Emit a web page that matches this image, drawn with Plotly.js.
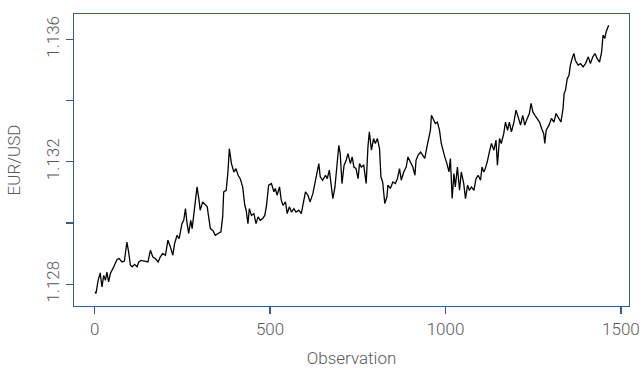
<!DOCTYPE html>
<html>
<head>
<meta charset="utf-8">
<script src="https://cdn.plot.ly/plotly-3.0.1.min.js"></script>
<style>html,body{margin:0;padding:0;background:#fff;}#chart{width:644px;height:368px;}</style>
</head>
<body>
<div id="chart"></div>
<script>
// Observation index
const obs = [1,4,10,16,21,26,31,35,40,45,52,57,64,70,78,85,92,97,102,107,114,121,126,133,143,152,159,166,173,181,187,194,202,209,216,223,228,235,241,249,254,259,263,268,274,278,283,287,292,297,301,308,316,321,325,330,337,344,352,360,365,368,
375,380,384,390,397,403,409,415,422,428,432,437,441,447,454,460,466,472,479,485,490,496,504,511,515,520,527,532,537,544,549,555,561,568,574,582,589,595,601,608,614,622,628,634,639,643,650,658,663,669,675,679,685,691,696,700,705,711,717,722,729,734,739,
745,751,755,760,767,774,779,783,789,795,800,806,812,816,821,827,833,836,843,850,857,863,869,874,881,888,893,900,907,913,916,922,929,935,941,948,953,957,960,966,971,977,983,988,992,998,1004,1010,1014,1019,1024,1028,1034,1040,1045,1052,1057,1063,1068,1074,1081,1087,1093,1100,1104,1109,
1112,1119,1125,1131,1138,1144,1148,1154,1159,1166,1171,1177,1182,1188,1195,1201,1207,1214,1220,1226,1233,1239,1244,1249,1255,1261,1268,1274,1280,1283,1287,1295,1302,1309,1315,1323,1329,1335,1338,1342,1347,1352,1356,1361,1366,1370,1378,1385,1392,1399,1407,1413,1420,1426,1432,1439,1445,1449,1454,1458,1462,1465];
// EUR/USD rate
const eurusd = [1.12775,1.12770,1.12813,1.12837,1.12791,1.12829,1.12813,1.12840,1.12808,1.12835,1.12851,1.12862,1.12881,1.12884,1.12873,1.12876,1.12938,1.12906,1.12862,1.12857,1.12865,1.12857,1.12873,1.12878,1.12876,1.12873,1.12911,1.12889,1.12884,1.12873,1.12889,1.12900,1.12895,1.12944,1.12922,1.12895,1.12933,1.12960,1.12949,1.12998,1.13009,1.13047,1.13004,1.12966,1.13009,1.12982,1.13031,1.13075,1.13118,1.13080,1.13042,1.13069,1.13058,1.13053,1.13020,1.12982,1.12976,1.12960,1.12966,1.12971,1.13020,1.13102,
1.13107,1.13167,1.13243,1.13194,1.13167,1.13178,1.13156,1.13145,1.13118,1.13058,1.13042,1.12998,1.13047,1.13025,1.13031,1.12998,1.13020,1.13009,1.13015,1.13025,1.13058,1.13124,1.13129,1.13102,1.13113,1.13091,1.13118,1.13075,1.13058,1.13069,1.13031,1.13053,1.13036,1.13047,1.13036,1.13042,1.13031,1.13069,1.13102,1.13091,1.13069,1.13096,1.13134,1.13162,1.13194,1.13151,1.13140,1.13156,1.13145,1.13173,1.13124,1.13080,1.13118,1.13194,1.13254,1.13227,1.13129,1.13189,1.13205,1.13227,1.13194,1.13216,1.13183,
1.13178,1.13145,1.13194,1.13183,1.13189,1.13129,1.13249,1.13298,1.13238,1.13276,1.13260,1.13276,1.13243,1.13151,1.13134,1.13064,1.13085,1.13124,1.13113,1.13134,1.13129,1.13145,1.13178,1.13140,1.13167,1.13183,1.13216,1.13200,1.13183,1.13156,1.13205,1.13222,1.13232,1.13222,1.13211,1.13254,1.13281,1.13303,1.13352,1.13336,1.13325,1.13330,1.13303,1.13260,1.13238,1.13216,1.13194,1.13167,1.13211,1.13080,1.13162,1.13118,1.13183,1.13107,1.13167,1.13129,1.13080,1.13124,1.13107,1.13118,1.13107,1.13145,1.13156,1.13140,1.13183,1.13167,
1.13173,1.13200,1.13232,1.13260,1.13238,1.13271,1.13189,1.13276,1.13260,1.13292,1.13330,1.13303,1.13330,1.13298,1.13330,1.13369,1.13347,1.13320,1.13352,1.13320,1.13342,1.13358,1.13391,1.13363,1.13352,1.13342,1.13330,1.13309,1.13292,1.13260,1.13303,1.13320,1.13342,1.13330,1.13358,1.13342,1.13330,1.13374,1.13423,1.13434,1.13472,1.13483,1.13516,1.13538,1.13554,1.13532,1.13516,1.13521,1.13510,1.13521,1.13543,1.13521,1.13543,1.13554,1.13538,1.13526,1.13559,1.13614,1.13603,1.13625,1.13641,1.13646];

const yTickVals = [1.128, 1.130, 1.132, 1.134, 1.136];
const yTickText = ['1.128', '', '1.132', '', '1.136'];
const xTickVals = [0, 500, 1000, 1500];

const axisBlue = '#2f5f8f';
const textGray = '#5a5a5a';
const font = {family: 'Roboto, "Open Sans", sans-serif', size: 17, color: textGray, weight: 300};

const trace = {
  x: obs, y: eurusd, type: 'scatter', mode: 'lines',
  line: {color: '#000000', width: 1.3}, hoverinfo: 'skip'
};

const layout = {
  width: 644, height: 368,
  margin: {l: 74, r: 15, t: 14, b: 62},
  paper_bgcolor: '#ffffff', plot_bgcolor: '#ffffff',
  showlegend: false,
  font: font,
  xaxis: {
    range: [-58.7, 1523], tickvals: xTickVals, ticktext: xTickVals.map(String),
    showgrid: false, zeroline: false,
    showline: true, mirror: true, linecolor: axisBlue, linewidth: 1.3,
    ticks: 'outside', ticklen: 7, tickcolor: axisBlue, tickwidth: 1.3,
    tickfont: font,
    title: {text: 'Observation', font: font, standoff: 14}
  },
  yaxis: {
    range: [1.12729, 1.13683], tickvals: yTickVals, ticktext: yTickText,
    tickangle: -90,
    showgrid: false, zeroline: false,
    showline: true, mirror: true, linecolor: axisBlue, linewidth: 1.3,
    ticks: 'outside', ticklen: 7, tickcolor: axisBlue, tickwidth: 1.3,
    tickfont: font,
    title: {text: 'EUR/USD', font: font, standoff: 18}
  }
};

Plotly.newPlot('chart', [trace], layout, {staticPlot: true, displayModeBar: false});
</script>
</body>
</html>
